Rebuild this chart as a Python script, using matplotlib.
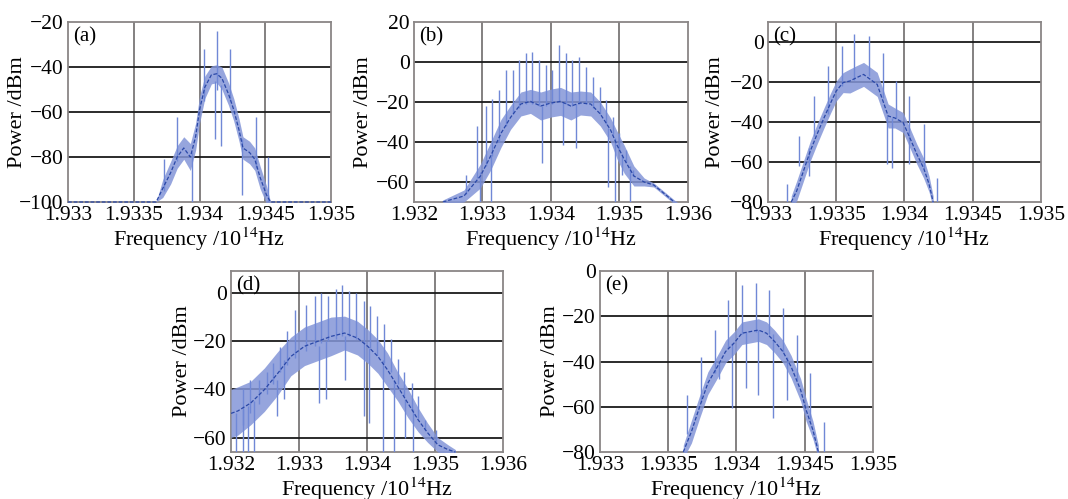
import numpy as np
import matplotlib
matplotlib.use('Agg')
from matplotlib import pyplot as plt

plt.rcParams['font.family'] = ['Liberation Serif', 'DejaVu Serif']
plt.rcParams['mathtext.fontset'] = 'stix'

# (a)
a_freq = [1.9330, 1.93367, 1.93372, 1.93378, 1.93383, 1.93388, 1.93393, 1.93397, 1.93400, 1.93404, 1.93409,
          1.93413, 1.93417, 1.93422, 1.93426, 1.93430, 1.93433, 1.93438, 1.93442, 1.93446, 1.93451, 1.93454, 1.9350]
a_power = [-100, -100, -94, -87, -80, -76, -80, -71, -59, -49, -43.5, -43, -45, -52, -59, -68, -76, -78, -81,
           -89, -97, -100, -100]
a_width = [0, 0, 4, 5, 5, 5, 6, 6, 6, 5, 4, 4, 5, 5, 5, 5, 5, 5, 5, 5, 4, 0, 0]
a_spikes = [(1.93373, -95, -81), (1.93383, -82, -62), (1.93394, -100, -78), (1.93403, -55, -32),
            (1.93412, -72, -46), (1.93413, -50, -24), (1.93416, -75, -48), (1.93423, -55, -32),
            (1.93432, -97, -72), (1.93443, -85, -62), (1.93452, -100, -80)]

# (b)
b_freq = [1.93242, 1.93273, 1.93297, 1.93312, 1.93327, 1.93341, 1.93356, 1.93370, 1.93385, 1.93400, 1.93414,
          1.93429, 1.93443, 1.93458, 1.93472, 1.93487, 1.93497, 1.93507, 1.93521, 1.93536, 1.93550, 1.93565,
          1.93580, 1.9360]
b_power = [-70, -67, -57, -47, -35.7, -27.7, -21, -19.7, -22, -20.5, -19.7, -22, -20.5, -21, -26, -34, -42,
           -48.7, -57, -60, -61.5, -65.7, -70, -75]
b_width = [1, 3, 6, 7, 7, 6, 6, 6, 7, 7, 7, 7, 6, 6, 6, 6, 7, 7, 5, 2, 1, 1, 1, 1]
b_spikes = [(1.93276, -66, -56.5), (1.93292, -58, -32), (1.93305, -52, -22), (1.93314, -47, -18.7),
            (1.93324, -40, -14), (1.93334, -32, -4), (1.93344, -26, -4), (1.93353, -23, 1), (1.93363, -21, 4.3),
            (1.93373, -21, 5), (1.93382, -22, 1), (1.93392, -22, -1.5), (1.93402, -21, -4), (1.93412, -20, 8.5),
            (1.93422, -21, 4.3), (1.93431, -22, 1), (1.93441, -21, 2.7), (1.93451, -21, -2.3),
            (1.93461, -23, -7.3), (1.93471, -26, -12.3), (1.93480, -31, -19), (1.93490, -36, -27.3),
            (1.93500, -44, -35.7), (1.93509, -50, -44), (1.93520, -57, -54),
            (1.93297, -70, -55), (1.93312, -73, -47), (1.93387, -50.7, -22), (1.93417, -41.7, -20),
            (1.93436, -43, -21), (1.93483, -62.5, -33), (1.93494, -70, -38), (1.93504, -56.7, -46),
            (1.93515, -70, -52)]

# (c)
c_freq = [1.93317, 1.93321, 1.93326, 1.93331, 1.93336, 1.93341, 1.93346, 1.93350, 1.93355, 1.93360, 1.93365,
          1.93370, 1.93375, 1.93380, 1.93385, 1.93388, 1.93393, 1.93399, 1.93404, 1.93409, 1.93414, 1.93418,
          1.93421]
c_power = [-80, -74.5, -64.5, -54.5, -46, -38, -30.3, -24.5, -20.3, -19.5, -17.8, -16.2, -18.7, -21.2, -31, -37,
           -38, -40.3, -48, -56, -63, -71, -80]
c_width = [3, 5, 5, 5, 5, 5, 5, 5, 5, 6, 6, 6, 6, 6, 6, 6, 5, 5, 5, 5, 5, 4, 3]
c_spikes = [(1.93314, -80, -71), (1.93323, -62, -47), (1.93334, -47, -27), (1.93344, -36, -12),
            (1.93354, -22, -2), (1.93363, -19, 3.8), (1.93374, -17, 3), (1.93384, -28, -5.3),
            (1.93394, -38, -19.5), (1.93403, -46, -27), (1.93414, -63, -41), (1.93424, -80, -68),
            (1.93330, -67, -53), (1.93387, -61, -37), (1.93391, -63, -38), (1.93403, -61, -46)]

# (d)
d_freq = [1.9320, 1.93210, 1.93229, 1.93249, 1.93269, 1.93288, 1.93308, 1.93327, 1.93347, 1.93367, 1.93386,
          1.93401, 1.93416, 1.93430, 1.93445, 1.93460, 1.93475, 1.93489, 1.93504, 1.93519, 1.93530]
d_power = [-50, -49, -45.7, -40.2, -33.3, -26.4, -22.2, -20.2, -18.1, -16.7, -18.8, -22.2, -26.4, -31.9, -38.8,
           -45.7, -52.6, -58, -63, -65, -66]
d_width = [10, 10, 9, 9, 9, 8, 8, 8, 8, 7, 7, 7, 7, 7, 6, 6, 5, 4, 3, 2, 1]
d_spikes = [(1.93217, -55, -40), (1.93228, -50, -36), (1.93241, -46, -36), (1.93253, -42, -33),
            (1.93262, -38, -29), (1.93272, -33, -22.5), (1.93283, -30, -16), (1.93294, -27, -7),
            (1.93311, -24, -5), (1.93323, -22, -1.4), (1.93333, -21, 0), (1.93343, -20, -1.4),
            (1.93354, -19, 1.4), (1.93363, -18, 3.2), (1.93374, -18, 0.7), (1.93384, -19, 0),
            (1.93395, -21, -3.4), (1.93405, -23, -5.5), (1.93415, -26, -9.7), (1.93425, -29, -13),
            (1.93435, -33, -19.3), (1.93445, -38, -27.6), (1.93455, -43, -33), (1.93466, -48, -37.4),
            (1.93475, -52, -43), (1.93485, -57, -52.6), (1.93502, -62, -56.7),
            (1.93207, -66, -50), (1.93218, -66, -48), (1.93225, -66, -47), (1.93234, -66, -45),
            (1.93267, -51, -36), (1.93278, -44, -28), (1.93330, -45.6, -22), (1.93340, -44, -20),
            (1.93367, -36, -18), (1.93396, -51, -21), (1.93403, -54, -23), (1.93423, -66, -28),
            (1.93439, -66, -36), (1.93456, -60, -44), (1.93468, -66, -48)]

# (e)
e_freq = [1.93361, 1.93367, 1.93373, 1.93379, 1.93386, 1.93392, 1.93398, 1.93404, 1.93410, 1.93416, 1.93422,
          1.93428, 1.93434, 1.93440, 1.93447, 1.93451, 1.93456, 1.93460]
e_power = [-80, -71, -60, -49.6, -42.3, -35.6, -32, -27.5, -26.8, -26.1, -27.5, -31.2, -35.6, -42.3, -52.6,
           -61.4, -70.3, -80]
e_width = [3, 5, 5, 5, 5, 5, 5, 5, 5, 5, 5, 5, 5, 5, 5, 5, 4, 3]
e_spikes = [(1.93364, -72, -54.8), (1.93374, -58, -37.9), (1.93384, -45, -26.1), (1.93394, -34, -12.8),
            (1.93404, -28, -6.2), (1.93414, -27, -5.4), (1.93424, -28, -8.4), (1.93434, -36, -16.5),
            (1.93444, -48, -28.3), (1.93454, -66, -45.2), (1.93464, -80, -66.6),
            (1.93397, -60.7, -32), (1.93407, -51.9, -27), (1.93416, -54.8, -26), (1.93427, -65.1, -28),
            (1.93437, -57, -38), (1.93387, -47.6, -40)]

x_ticks_ab = [1.933, 1.9335, 1.934, 1.9345, 1.935]
x_labels_ab = ['1.933', '1.9335', '1.934', '1.9345', '1.935']
x_ticks_wide = [1.932, 1.933, 1.934, 1.935, 1.936]
x_labels_wide = ['1.932', '1.933', '1.934', '1.935', '1.936']

panels = [
    ('(a)', a_freq, a_power, a_width, a_spikes, [0.0637, 0.5952, 0.2463, 0.3607],
     (1.933, 1.935), (-100, -20), x_ticks_ab, x_labels_ab, [-100, -80, -60, -40, -20], -0.156),
    ('(b)', b_freq, b_power, b_width, b_spikes, [0.3876, 0.5952, 0.2566, 0.3607],
     (1.932, 1.936), (-70, 20), x_ticks_wide, x_labels_wide, [-60, -40, -20, 0, 20], -0.15),
    ('(c)', c_freq, c_power, c_width, c_spikes, [0.7191, 0.5952, 0.2556, 0.3607],
     (1.933, 1.935), (-80, 10), x_ticks_ab, x_labels_ab, [-80, -60, -40, -20, 0], -0.157),
    ('(d)', d_freq, d_power, d_width, d_spikes, [0.2163, 0.0942, 0.2547, 0.3627],
     (1.932, 1.936), (-66, 9), x_ticks_wide, x_labels_wide, [-60, -40, -20, 0], -0.143),
    ('(e)', e_freq, e_power, e_width, e_spikes, [0.5618, 0.0942, 0.2556, 0.3627],
     (1.933, 1.935), (-80, 0), x_ticks_ab, x_labels_ab, [-80, -60, -40, -20, 0], -0.147),
]

fig = plt.figure(figsize=(10.68, 4.99), dpi=100)

for tag, f, p, w, spikes, pos, xl, yl, xt, xtl, yt, ylx in panels:
    ax = fig.add_axes(pos)
    f = np.array(f)
    p = np.array(p)
    w = np.array(w)
    ax.fill_between(f, p - w, p + w, color='#8496d8', lw=0, alpha=0.85, zorder=3)
    for sf, lo, hi in spikes:
        ax.vlines(sf, lo, hi, color='#7088d6', lw=1.0, zorder=3)
    # keep the floor line visible when the trace sits on the lower limit
    ax.plot(f, p, color='#2a48a8', lw=0.9, ls=(0, (3, 1.5)), zorder=4, clip_on=(p.min() < yl[0]))
    ax.set_xlim(*xl)
    ax.set_ylim(*yl)
    ax.set_xticks(xt)
    ax.set_xticklabels(xtl)
    ax.set_yticks(yt)
    ax.set_yticklabels([str(v).replace('-', '\u2212') for v in yt])
    ax.grid(False)
    for v in xt[1:-1]:
        ax.axvline(v, color='#7a7676', lw=1.3, zorder=1)
    for v in yt:
        if yl[0] < v < yl[1]:
            ax.axhline(v, color='#1a1a1a', lw=1.3, zorder=1)
    for s in ax.spines.values():
        s.set_color('#8a8686')
        s.set_linewidth(1.3)
    ax.tick_params(length=0, labelsize=15.5, pad=3)
    ax.set_xlabel('Frequency /10$^{14}$Hz', fontsize=16, labelpad=0)
    ax.set_ylabel('Power /dBm', fontsize=16)
    ax.yaxis.set_label_coords(ylx, 0.5)
    ax.text(0.02, 0.97, tag, transform=ax.transAxes, fontsize=15, va='top', ha='left', zorder=5)

plt.savefig('out.png', dpi=100)
